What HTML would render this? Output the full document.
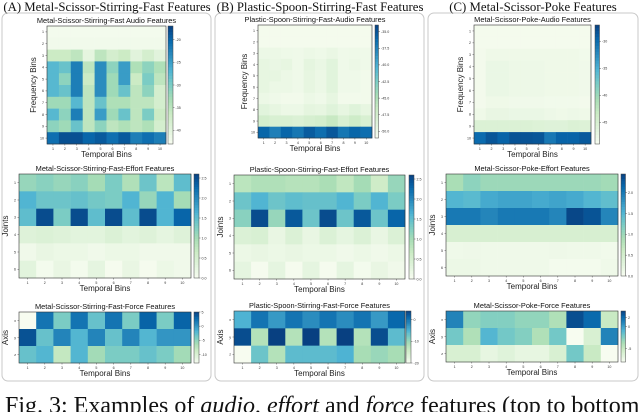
<!DOCTYPE html>
<html><head><meta charset="utf-8"><style>
html,body{margin:0;padding:0;background:#fff;width:640px;height:412px;overflow:hidden}
svg{display:block}
.ttl{font-family:"Liberation Serif",serif;font-size:12.8px;fill:#111}
.ht{font-family:"Liberation Sans",sans-serif;font-size:7.4px;fill:#111}
.al{font-family:"Liberation Sans",sans-serif;font-size:8px;fill:#222}
.tk{font-family:"Liberation Sans",sans-serif;font-size:3.6px;fill:#333}
.cap{font-family:"Liberation Serif",serif;font-size:24px;fill:#111}
</style></head><body>
<svg id="fig" width="640" height="412" viewBox="0 0 640 412">
<rect x="2" y="13" width="209" height="368" rx="6" fill="none" stroke="#c8c8c8"/>
<rect x="215" y="13" width="209" height="368" rx="6" fill="none" stroke="#c8c8c8"/>
<rect x="428" y="13" width="210" height="368" rx="6" fill="none" stroke="#c8c8c8"/>
<text class="ttl" x="107" y="11" text-anchor="middle">(A) Metal-Scissor-Stirring-Fast Features</text>
<text class="ttl" x="320" y="11" text-anchor="middle">(B) Plastic-Spoon-Stirring-Fast Features</text>
<text class="ttl" x="533" y="11" text-anchor="middle">(C) Metal-Scissor-Poke Features</text>
<text class="cap" x="5" y="413">Fig. 3: Examples of <tspan font-style="italic">audio</tspan>, <tspan font-style="italic">effort</tspan> and <tspan font-style="italic">force</tspan> features (top to bottom).</text>
<g id="maps"></g>
</svg>
<script>
const temporalBins=[1,2,3,4,5,6,7,8,9,10];
const freqBins=[1,2,3,4,5,6,7,8,9,10];
const jointLabels=[1,2,3,4,5,6];
const axisLabels=["x","y","z"];

const audioA=[
[-42.5,-42.5,-42.5,-42.5,-42.5,-42.5,-42.5,-42.5,-42.5,-42.5],
[-42.2,-42.2,-42.2,-42.2,-42.2,-42.2,-42.2,-42.2,-42.2,-42.2],
[-36.5,-36.5,-35.2,-40.4,-35.2,-37.8,-36.5,-39.9,-37.8,-39.9],
[-27.4,-28.7,-22.2,-35.2,-23.5,-31.3,-24.8,-33.9,-31.3,-33.9],
[-27.4,-31.3,-22.2,-36.5,-23.5,-32.6,-24.8,-36.5,-30,-35.2],
[-27.4,-28.7,-22.2,-35.2,-23.5,-32.6,-28.7,-35.2,-31.3,-37.8],
[-32.6,-32.6,-27.4,-35.2,-28.7,-33.9,-33.9,-35.2,-35.2,-37.8],
[-27.4,-31.3,-22.2,-35.2,-24.8,-32.6,-28.7,-35.2,-30,-36.5],
[-31.3,-32.6,-28.7,-35.2,-31.3,-35.2,-33.9,-35.2,-33.9,-37.8],
[-20.9,-18.3,-18.3,-20.1,-19.1,-20.9,-19.1,-22.2,-20.9,-22.2]];
const audioATicks=[-20,-25,-30,-35,-40];

const audioB=[
[-50.7,-50.7,-50.7,-50.7,-50.7,-50.7,-50.7,-50.7,-50.7,-50.7],
[-50.7,-50.7,-50.7,-50.7,-50.7,-50.7,-50.7,-50.7,-50.7,-50.7],
[-50,-50,-50.2,-50.3,-50,-50.2,-49.8,-50.3,-50.2,-50.3],
[-49.5,-49.8,-49.5,-50.3,-49.3,-49.8,-49,-50.3,-50,-50.3],
[-49.5,-49.5,-50,-50.3,-49.5,-50,-49,-50.3,-50.3,-50.5],
[-49.5,-50,-50,-50.3,-49.5,-50,-49,-50.3,-50.3,-50.5],
[-50,-50.3,-50.5,-50.5,-50,-50.3,-49.5,-50.5,-50.5,-50.5],
[-49,-49.5,-50,-50,-49.3,-49.5,-48.8,-49.5,-48.8,-49.5],
[-47.5,-48,-48,-48.3,-47.8,-47.5,-46.5,-48,-47,-48],
[-36,-37.5,-36,-37,-35.5,-36.5,-35.3,-37,-36,-36.5]];
const audioBTicks=[-35.0,-37.5,-40.0,-42.5,-45.0,-47.5,-50.0];

const audioC=[
[-48.6,-48.6,-48.6,-48.6,-48.6,-48.6,-48.6,-48.6,-48.6,-48.6],
[-48.6,-48.6,-48.6,-48.6,-48.6,-48.6,-48.6,-48.6,-48.6,-48.6],
[-48.5,-48,-48,-48,-48,-48,-48,-48,-48,-48.3],
[-48.5,-47.5,-47.5,-47.8,-47.8,-47.8,-48,-48,-48,-48.2],
[-48.5,-47.5,-47.5,-47.8,-47.8,-47.8,-48,-48,-48,-48.2],
[-48.5,-47.5,-47.5,-47.8,-47.8,-47.8,-48,-48,-48,-48.2],
[-48.5,-48,-48,-48.2,-48.2,-48.2,-48.3,-48.3,-48.3,-48.5],
[-48,-47.3,-47.3,-47.5,-47.5,-47.5,-47.8,-48,-47.8,-48],
[-45.5,-45.5,-45.5,-45.5,-45.5,-45.8,-46,-46,-45.5,-45.8],
[-30,-28.5,-29.5,-28.3,-28.3,-28.5,-31,-29.5,-29.5,-28.8]];
const audioCTicks=[-30,-35,-40,-45];

const effortA=[
[1.1,1.2,1.1,1.2,1.0,1.3,0.9,1.4,0.8,1.5],
[1.6,1.4,1.4,1.45,1.35,1.3,1.6,1.1,1.6,1.0],
[1.5,2.5,1.3,2.5,1.5,2.5,1.5,2.5,1.6,2.3],
[0.35,0.4,0.35,0.3,0.3,0.4,0.3,0.35,0.25,0.35],
[0.1,0.2,0.15,0.15,0.1,0.15,0.15,0.1,0.1,0.1],
[0.3,0.05,0.2,0.05,0.25,0.03,0.2,0.03,0.15,0.1]];
const effortB=[
[0.8,0.9,0.9,0.85,0.85,0.95,0.75,1.0,0.6,1.1],
[1.4,1.6,1.4,1.5,1.45,1.45,1.6,1.3,1.6,1.3],
[1.2,2.5,1.1,2.4,1.4,2.5,1.4,2.4,1.4,2.3],
[0.4,0.45,0.2,0.4,0.2,0.4,0.25,0.4,0.2,0.4],
[0.15,0.2,0.15,0.2,0.15,0.15,0.1,0.15,0.1,0.15],
[0.25,0.03,0.25,0.03,0.25,0.03,0.25,0.05,0.2,0.1]];
const effortC=[
[0.9,1.1,1.0,1.0,1.0,1.0,1.0,1.0,1.0,0.95],
[1.5,1.45,1.6,1.65,1.65,1.6,1.65,1.6,1.5,1.4],
[2.0,2.0,1.9,2.0,2.0,2.0,1.9,2.4,2.3,1.9],
[0.45,0.45,0.45,0.45,0.45,0.45,0.45,0.45,0.45,0.45],
[0.1,0.12,0.1,0.1,0.1,0.1,0.12,0.1,0.1,0.08],
[0.15,0.15,0.1,0.1,0.1,0.1,0.05,0.05,0.05,0.1]];
const effortABTicks=[2.5,2.0,1.5,1.0,0.5,0.0];
const effortCTicks=[2.0,1.5,1.0,0.5,0.0];

const forceA=[
[-13,2,-4,2,-3,2,-4,3,-4,3],
[4,-3,1,-2,1,-3,1,-2,0,0],
[-3,-2,-8,-2,-6,-4,-4,-3,-4,-6]];
const forceATicks=[5,0,-5,-10];
const forceB=[
[-5,0,-3,0,-2,0,-2,0,-3,1],
[3,-12,4,-12,4,-12,4,-12,3,-6],
[-20,-7,-12,-6,-6,-6,-5,-11,-10,-11]];
const forceBTicks=[0,-10,-20];
const forceC=[
[1,-3,-2.5,-2.5,-3,-3,-4,3,2,-5],
[-2,-4,-1,-2,-2.5,-4,-2,-8,-6,1],
[-6,-6,-7,-6.5,-7,-7,-6,-2,-5,-8]];
const forceCTicks=[2,0,-5];

const stops=["#f7fcf0","#e0f3db","#ccebc5","#a8ddb5","#7bccc4","#4eb3d3","#2b8cbe","#0868ac","#084081"];
function hex(h){return [1,3,5].map(i=>parseInt(h.substr(i,2),16));}
function cmap(t){t=Math.max(0,Math.min(1,t));const p=t*(stops.length-1);const i=Math.min(stops.length-2,Math.floor(p));const f=p-i;const a=hex(stops[i]),b=hex(stops[i+1]);return "rgb("+a.map((v,k)=>Math.round(v+(b[k]-v)*f)).join(",")+")";}
const NS="http://www.w3.org/2000/svg";
const root=document.getElementById("maps");
function mk(tag,attrs,parent){const e=document.createElementNS(NS,tag);for(const k in attrs)e.setAttribute(k,attrs[k]);(parent||root).appendChild(e);return e;}

function heatmap(c){
  const g=mk("g",{});
  
  
  const rows=c.data.length, cols=c.data[0].length;
  const cw=(c.x1-c.x0)/cols, ch=(c.y1-c.y0)/rows;
  const xs=i=>c.x0+i*cw, ys=j=>c.y0+j*ch;
  const norm=v=>(v-c.vmin)/(c.vmax-c.vmin);
  c.data.forEach((row,j)=>row.forEach((v,i)=>{
    const r=mk("rect",{x:xs(i),y:ys(j),width:cw+0.3,height:ch+0.3,fill:cmap(norm(v))},g);
    
    
  }));
  mk("rect",{x:c.x0,y:c.y0,width:c.x1-c.x0,height:c.y1-c.y0,fill:"none",stroke:"#333","stroke-width":0.6},g);
  const t=mk("text",{x:(c.x0+c.x1)/2,y:c.y0-3,"text-anchor":"middle",class:"ht"},g);t.textContent=c.title;
  
  
  c.xlabels.forEach((l,i)=>{
    const x=xs(i)+cw/2;
    mk("line",{x1:x,x2:x,y1:c.y1,y2:c.y1+1.5,stroke:"#333","stroke-width":0.4},g);
    const tt=mk("text",{x:x,y:c.y1+6,"text-anchor":"middle",class:"tk"},g);tt.textContent=l;
    
    
  });
  c.ylabels.forEach((l,j)=>{
    const y=ys(j)+ch/2;
    mk("line",{x1:c.x0-1.5,x2:c.x0,y1:y,y2:y,stroke:"#333","stroke-width":0.4},g);
    const tt=mk("text",{x:c.x0-3,y:y+1.3,"text-anchor":"end",class:"tk"},g);tt.textContent=l;
    
    
  });
  const xl=mk("text",{x:(c.x0+c.x1)/2,y:c.y1+13,"text-anchor":"middle",class:"al"},g);xl.textContent="Temporal Bins";
  
  
  const yx=c.x0-11, yy=(c.y0+c.y1)/2;
  const yl=mk("text",{x:yx,y:yy,"text-anchor":"middle",class:"al",transform:"rotate(-90 "+yx+" "+yy+")"},g);yl.textContent=c.ylabel;
  
  
  const n=40, bh=(c.y1-c.y0)/n;
  for(let k=0;k<n;k++){mk("rect",{x:c.cx,y:c.y0+k*bh,width:c.cw,height:bh+0.3,fill:cmap(1-(k+0.5)/n)},g);}
  const cb=mk("rect",{x:c.cx,y:c.y0,width:c.cw,height:c.y1-c.y0,fill:"none",stroke:"#444","stroke-width":0.5},g);
  
  
  const cy=v=>c.y1-norm(v)*(c.y1-c.y0);
  c.ticks.forEach(v=>{
    const y=cy(v);
    mk("line",{x1:c.cx+c.cw,x2:c.cx+c.cw+1.5,y1:y,y2:y,stroke:"#333","stroke-width":0.4},g);
    const tt=mk("text",{x:c.cx+c.cw+2.5,y:y+1.3,class:"tk"},g);tt.textContent=(c.fmt?v.toFixed(1):v);
    
    
  });
}

heatmap({name:"audio-heatmap-a",title:"Metal-Scissor-Stirring-Fast Audio Features",data:audioA,vmin:-43,vmax:-17,ticks:audioATicks,x0:47,x1:166,y0:26,y1:144,cx:168,cw:5,xlabels:temporalBins,ylabels:freqBins,ylabel:"Frequency Bins"});
heatmap({name:"audio-heatmap-b",title:"Plastic-Spoon-Stirring-Fast-Audio Features",data:audioB,vmin:-51,vmax:-34,ticks:audioBTicks,fmt:true,x0:258,x1:372,y0:25,y1:138,cx:375,cw:3.5,xlabels:temporalBins,ylabels:freqBins,ylabel:"Frequency Bins"});
heatmap({name:"audio-heatmap-c",title:"Metal-Scissor-Poke-Audio Features",data:audioC,vmin:-49,vmax:-27,ticks:audioCTicks,x0:474,x1:591,y0:25,y1:144,cx:595,cw:4.5,xlabels:temporalBins,ylabels:freqBins,ylabel:"Frequency Bins"});
heatmap({name:"effort-heatmap-a",title:"Metal-Scissor-Stirring-Fast-Effort Features",data:effortA,vmin:0,vmax:2.6,ticks:effortABTicks,fmt:true,x0:19,x1:191,y0:174,y1:278,cx:194,cw:5,xlabels:temporalBins,ylabels:jointLabels,ylabel:"Joints"});
heatmap({name:"effort-heatmap-b",title:"Plastic-Spoon-Stirring-Fast-Effort Features",data:effortB,vmin:0,vmax:2.6,ticks:effortABTicks,fmt:true,x0:234,x1:405,y0:175,y1:279,cx:409,cw:5,xlabels:temporalBins,ylabels:jointLabels,ylabel:"Joints"});
heatmap({name:"effort-heatmap-c",title:"Metal-Scissor-Poke-Effort Features",data:effortC,vmin:0,vmax:2.45,ticks:effortCTicks,fmt:true,x0:446,x1:618,y0:174,y1:276,cx:621,cw:4.5,xlabels:temporalBins,ylabels:jointLabels,ylabel:"Joints"});
heatmap({name:"force-heatmap-a",title:"Metal-Scissor-Stirring-Fast-Force Features",data:forceA,vmin:-13,vmax:5,ticks:forceATicks,x0:19,x1:191,y0:312,y1:363,cx:194,cw:5,xlabels:temporalBins,ylabels:axisLabels,ylabel:"Axis"});
heatmap({name:"force-heatmap-b",title:"Plastic-Spoon-Stirring-Fast-Force Features",data:forceB,vmin:-20,vmax:4,ticks:forceBTicks,x0:234,x1:405,y0:311,y1:363,cx:406,cw:5,xlabels:temporalBins,ylabels:axisLabels,ylabel:"Axis"});
heatmap({name:"force-heatmap-c",title:"Metal-Scissor-Poke-Force Features",data:forceC,vmin:-8,vmax:3.5,ticks:forceCTicks,x0:446,x1:618,y0:311,y1:362,cx:621,cw:4.5,xlabels:temporalBins,ylabels:axisLabels,ylabel:"Axis"});
</script>
</body></html>
